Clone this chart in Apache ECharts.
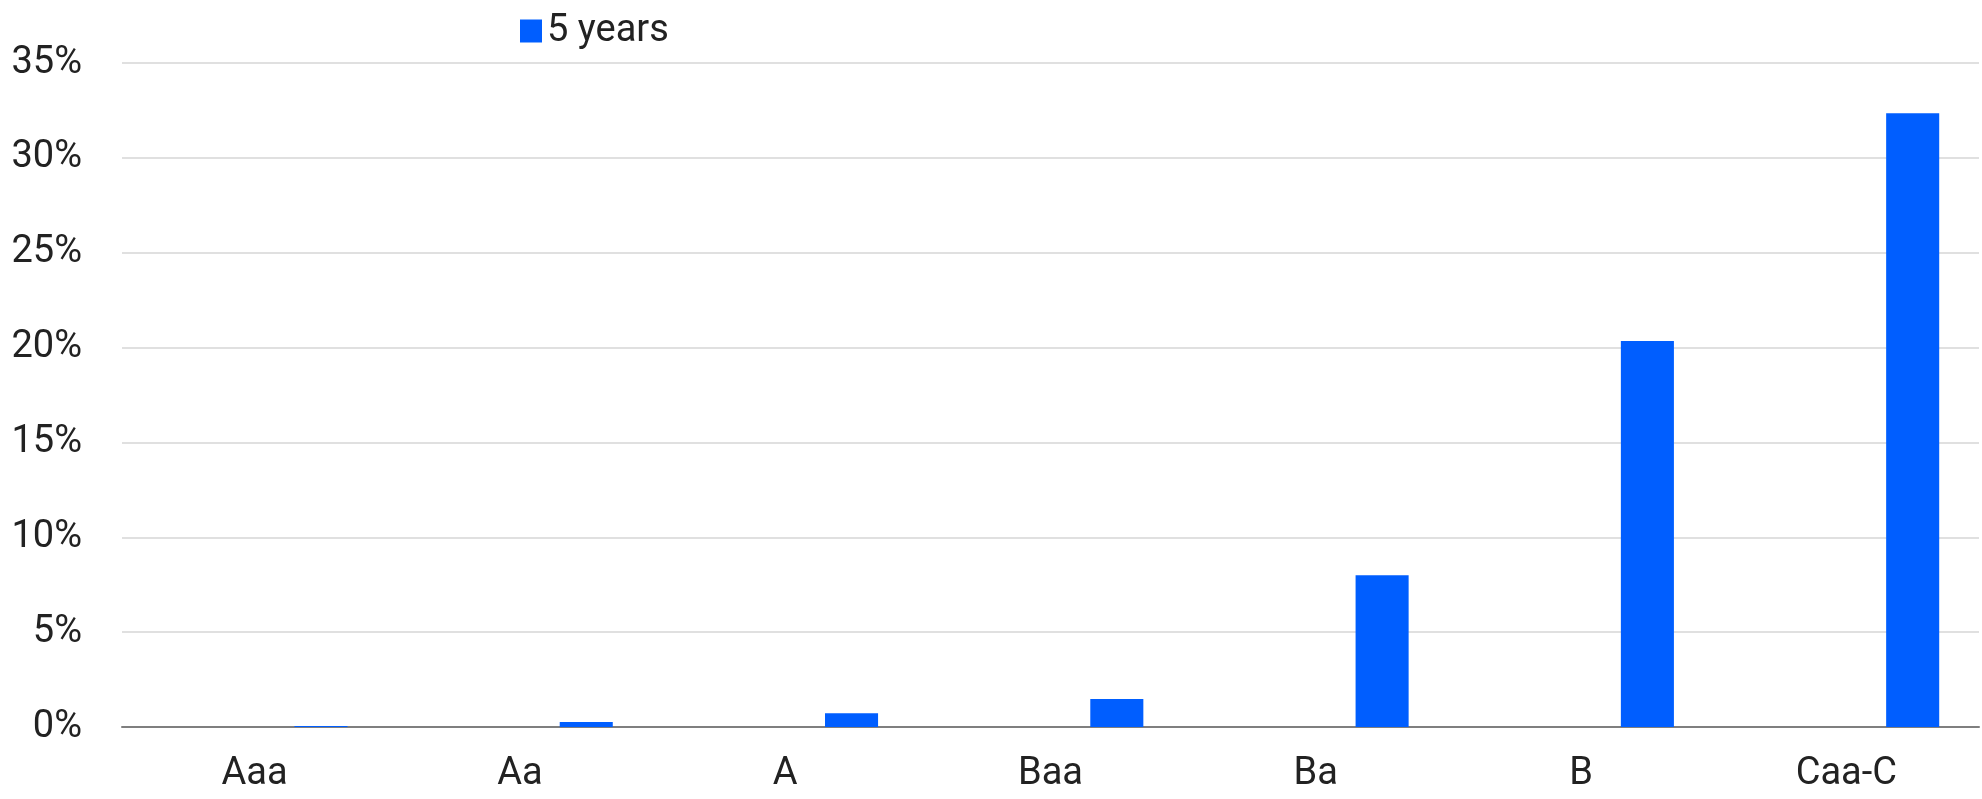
<!DOCTYPE html>
<html>
<head>
<meta charset="utf-8">
<script src="https://cdn.jsdelivr.net/npm/echarts@6/dist/echarts.min.js"></script>
<style>
  html, body { margin: 0; padding: 0; background: #fff; }
  #chart { width: 1982px; height: 799px; }
</style>
</head>
<body>
<div id="chart"></div>
<script>
// ratings and 5-year default rates (%)
const ratings = ['Aaa', 'Aa', 'A', 'Baa', 'Ba', 'B', 'Caa-C']
const fiveYears = [0.05, 0.27, 0.73, 1.47, 8.0, 20.35, 32.35]
// left slot of each category is empty in the source
const emptySlot = [null, null, null, null, null, null, null]
const yTicks = [0, 5, 10, 15, 20, 25, 30, 35]

const font = "'Roboto', sans-serif"

const chart = echarts.init(document.getElementById('chart'))
chart.setOption({
  animation: false,
  textStyle: { fontFamily: font },
  legend: {
    data: ['5 years'],
    left: 515,
    top: 7,
    itemWidth: 22,
    itemHeight: 23,
    itemGap: 10,
    icon: 'rect',
    textStyle: { fontFamily: font, fontSize: 38, color: '#222' }
  },
  grid: { left: 122, right: 3, top: 63, bottom: 72, containLabel: false },
  xAxis: {
    type: 'category',
    data: ratings,
    axisLine: { lineStyle: { color: '#7f7f7f', width: 2 } },
    axisTick: { length: 13, lineStyle: { color: '#7f7f7f', width: 2 } },
    axisLabel: { fontFamily: font, fontSize: 38, color: '#222', margin: 28 }
  },
  yAxis: {
    type: 'value',
    min: yTicks[0],
    max: yTicks[yTicks.length - 1],
    interval: 5,
    axisLine: { show: false },
    axisTick: { show: false },
    splitLine: { lineStyle: { color: '#e0e0e0', width: 2 } },
    axisLabel: {
      fontFamily: font, fontSize: 38, color: '#222', margin: 40,
      formatter: '{value}%'
    }
  },
  series: [
    {
      name: 'other',
      type: 'bar',
      data: emptySlot,
      barWidth: '20%',
      barGap: '150%'
    },
    {
      name: '5 years',
      type: 'bar',
      data: fiveYears,
      barWidth: '20%',
      barGap: '150%',
      itemStyle: { color: '#005eff' }
    }
  ]
})
</script>
</body>
</html>
